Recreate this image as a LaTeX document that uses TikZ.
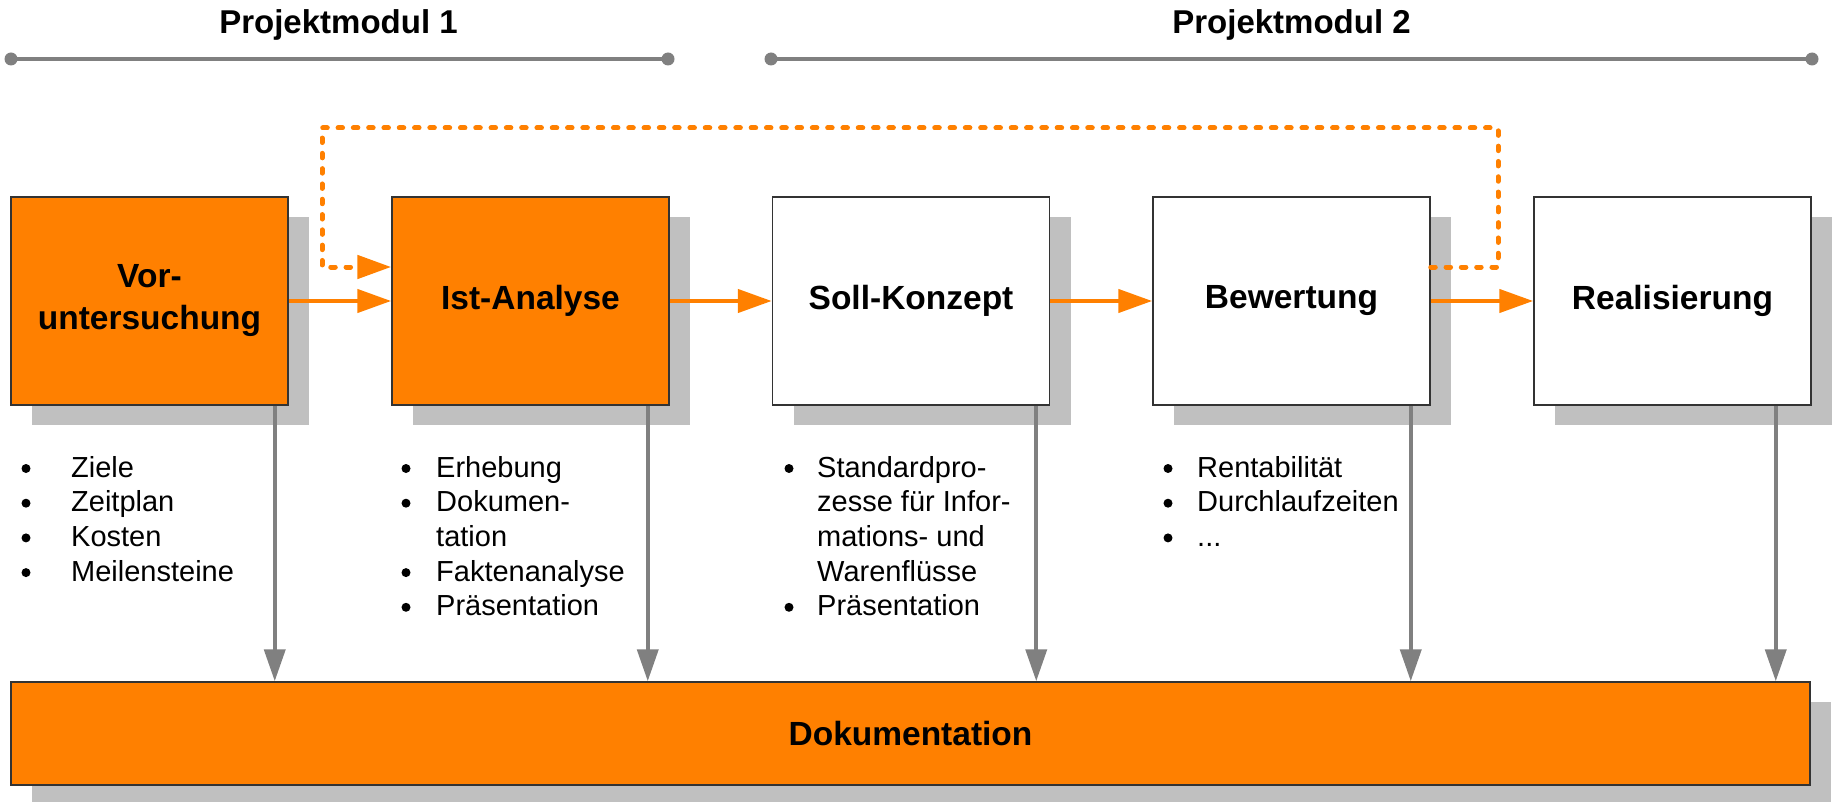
\documentclass[tikz,border=0pt]{standalone}
\usepackage{fontspec}
\setmainfont{Liberation Sans}
\usetikzlibrary{arrows.meta,shadows,calc}
\definecolor{orng}{HTML}{FF8000}
\definecolor{shgray}{HTML}{C0C0C0}
\definecolor{arrgray}{HTML}{808080}
\definecolor{bordr}{HTML}{333333}
\begin{document}
\begin{tikzpicture}[x=1pt,y=-1pt,
  proc/.style={draw=bordr, line width=1.5pt, minimum width=277pt, minimum height=208pt,
    inner sep=0pt, align=center, font=\fontsize{33.5}{42}\selectfont\bfseries,
    drop shadow={shadow xshift=21pt,shadow yshift=-20pt,fill=shgray,opacity=1}},
  procO/.style={proc, fill=orng},
  procW/.style={proc, fill=white},
  flow/.style={draw=orng, line width=4.5pt, -{Triangle[length=34pt,width=23pt]}},
  fb/.style={draw=orng, line width=5pt, line cap=round, dash pattern=on 4.5pt off 10.8pt,
    -{Triangle[length=34pt,width=23pt]}},
  down/.style={draw=arrgray, line width=4pt, -{Triangle[length=32pt,width=21pt]}},
  modline/.style={draw=arrgray, line width=4pt},
  pm/.style={anchor=base, inner sep=0pt, font=\fontsize{33}{38}\selectfont\bfseries},
  li/.style={anchor=base west, inner sep=0pt, font=\fontsize{29}{34}\selectfont},
]
\useasboundingbox (0,0) rectangle (1835,802);

% project module headers
\coordinate (p1a) at (11,59);
\coordinate (p1b) at (668,59);
\coordinate (p2a) at (771,59);
\coordinate (p2b) at (1812,59);
\draw[modline] (p1a) -- (p1b);
\draw[modline] (p2a) -- (p2b);
\fill[arrgray] (p1a) circle (6.5);
\fill[arrgray] (p1b) circle (6.5);
\fill[arrgray] (p2a) circle (6.5);
\fill[arrgray] (p2b) circle (6.5);
\node[pm] (pm1) at (338.5,34) {Projektmodul 1};
\node[pm] (pm2) at (1291.5,34) {Projektmodul 2};

% process boxes
\node[procO] (vor) at (149.5,301) {Vor-\\untersuchung};
\node[procO] (ist) at (530.5,301) {Ist-Analyse};
\node[procW] (soll) at (911,301) {Soll-Konzept};
\node[procW] (bew) at (1291.5,301) {Bewertung};
\node[procW] (real) at (1672.5,301) {Realisierung};
\node[procO, minimum width=1799pt, minimum height=103pt] (doku) at (910.5,733.5) {Dokumentation};

% flow arrows
\draw[flow] (vor.east) -- (ist.west);
\draw[flow] (ist.east) -- (soll.west);
\draw[flow] (soll.east) -- (bew.west);
\draw[flow] (bew.east) -- (real.west);

% feedback dashed arrow
\coordinate (fbA) at (1498,128);
\coordinate (fbB) at (322,128);
\draw[fb] ([yshift=34pt]bew.east) -| (fbA) -- (fbB) |- ([yshift=34pt]ist.west);

% documentation arrows
\coordinate (g1) at ([xshift=-14pt]vor.south east);
\coordinate (g2) at ([xshift=-22pt]ist.south east);
\coordinate (g3) at ([xshift=-14pt]soll.south east);
\coordinate (g4) at ([xshift=-20pt]bew.south east);
\coordinate (g5) at ([xshift=-36pt]real.south east);
\draw[down] (g1) -- (g1 |- doku.north);
\draw[down] (g2) -- (g2 |- doku.north);
\draw[down] (g3) -- (g3 |- doku.north);
\draw[down] (g4) -- (g4 |- doku.north);
\draw[down] (g5) -- (g5 |- doku.north);

% lists: Voruntersuchung
\node[li] (v0) at (71,477) {Ziele};
\node[li] (v1) at (71,511.7) {Zeitplan};
\node[li] (v2) at (71,546.4) {Kosten};
\node[li] (v3) at (71,581.1) {Meilensteine};
\fill (26,468.5) circle (4.5);
\fill (26,503.2) circle (4.5);
\fill (26,537.9) circle (4.5);
\fill (26,572.6) circle (4.5);

% Ist-Analyse
\node[li] (i0) at (436,477) {Erhebung};
\node[li] (i1) at (436,511.7) {Dokumen-};
\node[li] (i2) at (436,546.4) {tation};
\node[li] (i3) at (436,581.1) {Faktenanalyse};
\node[li] (i4) at (436,615.8) {Präsentation};
\fill (406,468.5) circle (4.5);
\fill (406,503.2) circle (4.5);
\fill (406,572.6) circle (4.5);
\fill (406,607.3) circle (4.5);

% Soll-Konzept
\node[li] (s0) at (817,477) {Standardpro-};
\node[li] (s1) at (817,511.7) {zesse für Infor-};
\node[li] (s2) at (817,546.4) {mations- und};
\node[li] (s3) at (817,581.1) {Warenflüsse};
\node[li] (s4) at (817,615.8) {Präsentation};
\fill (789,468.5) circle (4.5);
\fill (789,607.3) circle (4.5);

% Bewertung
\node[li] (b0) at (1197,477) {Rentabilität};
\node[li] (b1) at (1197,511.7) {Durchlaufzeiten};
\node[li] (b2) at (1197,546.4) {...};
\fill (1168,468.5) circle (4.5);
\fill (1168,503.2) circle (4.5);
\fill (1168,537.9) circle (4.5);
\end{tikzpicture}
\end{document}
